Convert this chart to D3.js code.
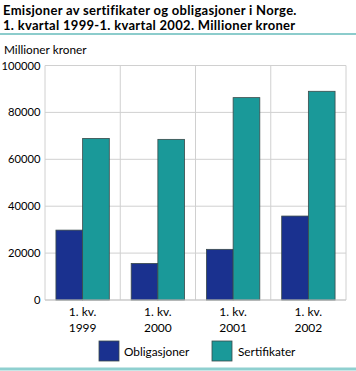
<!DOCTYPE html>
<html><head><meta charset="utf-8">
<script src="https://cdn.jsdelivr.net/npm/d3@7"></script>
<style>body{margin:0;background:#fff}svg{display:block}text{font-family:Lato,"Open Sans",sans-serif}</style>
</head><body>
<script>
const categories = ["1999","2000","2001","2002"];
const catPrefix = "1. kv.";
const obligasjoner = [29800, 15600, 21600, 35800];
const sertifikater = [68900, 68500, 86300, 89000];
const seriesNames = ["Obligasjoner","Sertifikater"];
const colors = ["#1a318f","#1a9999"];
const yTicks = [0,20000,40000,60000,80000,100000];
const titleLines = ["Emisjoner av sertifikater og obligasjoner i Norge.","1. kvartal 1999-1. kvartal 2002. Millioner kroner"];

const W=356,H=371;
const svg=d3.select("body").append("svg").attr("width",W).attr("height",H);
const x=d3.scaleBand().domain(categories).range([45,346]);
const y=d3.scaleLinear().domain([0,100000]).range([300,65.5]);
const xs=d3.scaleBand().domain(seriesNames).range([0,x.bandwidth()]).paddingOuter(0.41).paddingInner(0);

// title
svg.selectAll("text.title").data(titleLines).join("text").attr("class","title")
 .attr("x",3).attr("y",(d,i)=>14.7+i*15.7).attr("font-weight","bold").attr("font-size",13).attr("letter-spacing",0.3).attr("fill","#000").text(d=>d);
svg.append("line").attr("x1",0).attr("x2",W).attr("y1",34).attr("y2",34).attr("stroke","#1a9999").attr("stroke-width",1.2);
svg.append("text").attr("x",4).attr("y",54).attr("font-size",11.8).text("Millioner kroner");

// grid
const g=svg.append("g");
g.selectAll("line.h").data(yTicks).join("line").attr("x1",45).attr("x2",346)
 .attr("y1",d=>y(d)).attr("y2",d=>y(d)).attr("stroke","#d0d0d0").attr("stroke-width",1);
g.selectAll("line.v").data(categories.slice(1)).join("line").attr("x1",d=>x(d)).attr("x2",d=>x(d))
 .attr("y1",y(100000)).attr("y2",y(0)).attr("stroke","#d0d0d0");
g.append("line").attr("x1",346).attr("x2",346).attr("y1",y(100000)).attr("y2",y(0)).attr("stroke","#d0d0d0");
g.append("line").attr("x1",45).attr("x2",45).attr("y1",y(100000)).attr("y2",y(0)).attr("stroke","#d0d0d0");

// y axis labels
const ya=svg.append("g").attr("transform","translate(40.5,0)").call(d3.axisLeft(y).tickValues(yTicks).tickFormat(d3.format("d")).tickSize(0).tickPadding(0));
ya.select(".domain").remove();
ya.selectAll("text").attr("font-size",11.2).attr("font-family","Lato,'Open Sans',sans-serif").attr("fill","#000");

// bars
const data=categories.map((c,i)=>({c,vals:[obligasjoner[i],sertifikater[i]]}));
const grp=svg.selectAll("g.cat").data(data).join("g").attr("transform",d=>`translate(${x(d.c)},0)`);
grp.selectAll("rect").data(d=>d.vals.map((v,j)=>({v,j}))).join("rect")
 .attr("x",d=>xs(seriesNames[d.j])).attr("width",xs.bandwidth())
 .attr("y",d=>y(d.v)).attr("height",d=>y(0)-y(d.v))
 .attr("fill",d=>colors[d.j]).attr("stroke","#3a4a4a").attr("stroke-width",0.8);

// baseline
svg.append("line").attr("x1",45).attr("x2",346).attr("y1",y(0)).attr("y2",y(0)).attr("stroke","#c8c8c8");

// x labels
svg.selectAll("text.xl1").data(categories).join("text").attr("class","xl1").attr("text-anchor","middle").attr("font-size",12)
 .attr("x",d=>x(d)+x.bandwidth()/2).attr("y",316).text(catPrefix);
svg.selectAll("text.xl2").data(categories).join("text").attr("class","xl2").attr("text-anchor","middle").attr("font-size",12)
 .attr("x",d=>x(d)+x.bandwidth()/2).attr("y",331.5).text(d=>d);

// legend
const legX=[99,212];
const lg=svg.selectAll("g.lg").data(seriesNames).join("g").attr("transform",(d,i)=>`translate(${legX[i]},341)`);
lg.append("rect").attr("width",20).attr("height",20).attr("fill",(d,i)=>colors[i]).attr("stroke","#3a4a4a").attr("stroke-width",0.8);
lg.append("text").attr("x",(d,i)=>i===0?25:26).attr("y",15).attr("font-size",11.8).text(d=>d);

svg.append("line").attr("x1",0).attr("x2",W).attr("y1",369).attr("y2",369).attr("stroke","#8fd0d0").attr("stroke-width",3);
</script>
</body></html>
